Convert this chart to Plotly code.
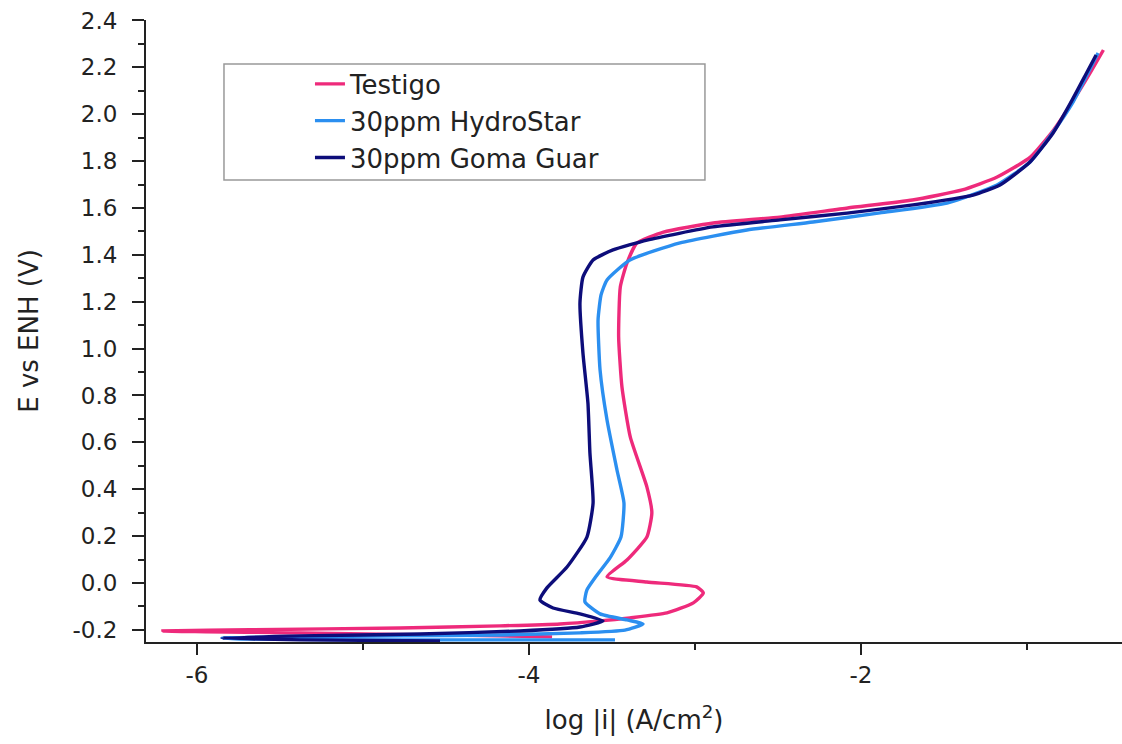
import plotly.graph_objects as go

# ---- data (log|i| in A/cm2, E in V vs ENH) ----
series_names = ["Testigo", "30ppm HydroStar", "30ppm Goma Guar"]

testigo_logi = [-3.861, -4.175, -5.380, -6.205, -5.680, -4.777, -4.175, -3.813, -3.572,
                -3.392, -3.169, -3.010, -2.950, -2.990, -3.290, -3.530, -3.410, -3.290,
                -3.260, -3.290, -3.390, -3.440, -3.460, -3.450, -3.410, -3.350, -3.190,
                -2.890, -2.490, -2.080, -1.690, -1.390, -1.180, -0.980, -0.840, -0.720,
                -0.620, -0.540]
testigo_e = [-0.230, -0.226, -0.213, -0.205, -0.200, -0.192, -0.183, -0.175, -0.162,
             -0.149, -0.128, -0.085, -0.043, -0.017, 0.004, 0.026, 0.098, 0.196,
             0.299, 0.410, 0.623, 0.836, 1.050, 1.263, 1.365, 1.450, 1.497,
             1.536, 1.561, 1.600, 1.634, 1.677, 1.732, 1.817, 1.933, 2.060,
             2.176, 2.274]

hydro_logi = [-3.482, -4.536, -5.741, -5.849, -5.380, -4.777, -4.175, -3.693, -3.422,
              -3.313, -3.410, -3.572, -3.663, -3.651, -3.590, -3.512, -3.446, -3.428,
              -3.470, -3.530, -3.572, -3.584, -3.566, -3.530, -3.392, -3.090, -2.687,
              -2.289, -1.886, -1.482, -1.181, -0.982, -0.843, -0.723, -0.639, -0.572]
hydro_e = [-0.243, -0.243, -0.239, -0.235, -0.230, -0.226, -0.222, -0.213, -0.201,
           -0.175, -0.158, -0.132, -0.081, -0.030, 0.034, 0.107, 0.196, 0.341,
           0.482, 0.695, 0.909, 1.122, 1.229, 1.293, 1.378, 1.451, 1.506,
           1.540, 1.579, 1.621, 1.698, 1.796, 1.924, 2.052, 2.167, 2.261]

guar_logi = [-4.536, -5.380, -5.849, -5.380, -4.657, -4.054, -3.693, -3.554, -3.693,
             -3.855, -3.934, -3.892, -3.771, -3.651, -3.614, -3.633, -3.645, -3.675,
             -3.693, -3.675, -3.614, -3.494, -3.289, -2.892, -2.488, -2.084, -1.687,
             -1.325, -1.163, -0.982, -0.843, -0.741, -0.651, -0.584]
guar_e = [-0.247, -0.243, -0.235, -0.226, -0.218, -0.205, -0.188, -0.162, -0.132,
          -0.107, -0.073, -0.021, 0.068, 0.196, 0.341, 0.555, 0.768, 0.981,
          1.195, 1.305, 1.378, 1.421, 1.463, 1.519, 1.549, 1.578, 1.613,
          1.655, 1.698, 1.796, 1.920, 2.044, 2.163, 2.253]

# tick labels as printed in the reference (hyphen minus)
x_tick_vals = [-6, -4, -2]
x_tick_labels = ["-6", "-4", "-2"]
y_tick_vals = [-0.2, 0.0, 0.2, 0.4, 0.6, 0.8, 1.0, 1.2, 1.4, 1.6, 1.8, 2.0, 2.2, 2.4]
y_tick_labels = ["-0.2", "0.0", "0.2", "0.4", "0.6", "0.8", "1.0", "1.2", "1.4",
                 "1.6", "1.8", "2.0", "2.2", "2.4"]

colors = ["#ee2a7b", "#2b8ff0", "#0d0d7a"]

fig = go.Figure()
for name, xs, ys, c in zip(series_names,
                           [testigo_logi, hydro_logi, guar_logi],
                           [testigo_e, hydro_e, guar_e], colors):
    fig.add_trace(go.Scatter(x=xs, y=ys, mode="lines", name=name,
                             line=dict(color=c, width=3.4, shape="spline", smoothing=0.5)))

axis_font = dict(family="DejaVu Sans", size=23, color="#222222")
fig.update_layout(
    template="none",
    width=1122, height=744,
    margin=dict(l=146, r=0, t=20, b=102, pad=0),
    paper_bgcolor="white", plot_bgcolor="white",
    font=dict(family="DejaVu Sans", color="#222222"),
    showlegend=True,
    legend=dict(x=0.168, y=0.935, xanchor="left", yanchor="top",
                bgcolor="rgba(0,0,0,0)", borderwidth=0,
                font=dict(family="DejaVu Sans", size=26, color="#222222"),
                tracegroupgap=0),
    shapes=[dict(type="rect", xref="paper", yref="paper",
                 x0=0.0799, x1=0.5727, y0=0.7428, y1=0.9293,
                 line=dict(color="#999999", width=1.5), fillcolor="rgba(0,0,0,0)")],
)
fig.update_xaxes(
    automargin=False,
    range=[-6.307, -0.428], tickmode="array", tickvals=x_tick_vals, ticktext=x_tick_labels,
    showline=True, linecolor="#222222", linewidth=2, mirror=False,
    ticks="outside", ticklen=11, tickwidth=2, tickcolor="#222222",
    minor=dict(tickmode="linear", dtick=1, tick0=-6, ticks="outside", ticklen=6,
               tickwidth=2, tickcolor="#222222", showgrid=False),
    showgrid=False, zeroline=False, tickfont=axis_font,
    title=dict(text="log |i| (A/cm<sup>2</sup>)",
               font=dict(family="DejaVu Sans", size=26, color="#222222"), standoff=24),
)
fig.update_yaxes(
    automargin=False,
    range=[-0.252, 2.402], tickmode="array", tickvals=y_tick_vals, ticktext=y_tick_labels,
    showline=True, linecolor="#222222", linewidth=2, mirror=False,
    ticks="outside", ticklen=12, tickwidth=2, tickcolor="#222222",
    ticklabelstandoff=10,
    minor=dict(tickmode="linear", dtick=0.1, tick0=0, ticks="outside", ticklen=6,
               tickwidth=2, tickcolor="#222222", showgrid=False),
    showgrid=False, zeroline=False, tickfont=axis_font,
    title=dict(text="E vs ENH (V)",
               font=dict(family="DejaVu Sans", size=26, color="#222222"), standoff=26),
)

fig.write_html(
    "out.html",
    config={"displayModeBar": False},
    post_script="document.body.style.margin='0px';document.body.style.overflow='hidden';",
)
